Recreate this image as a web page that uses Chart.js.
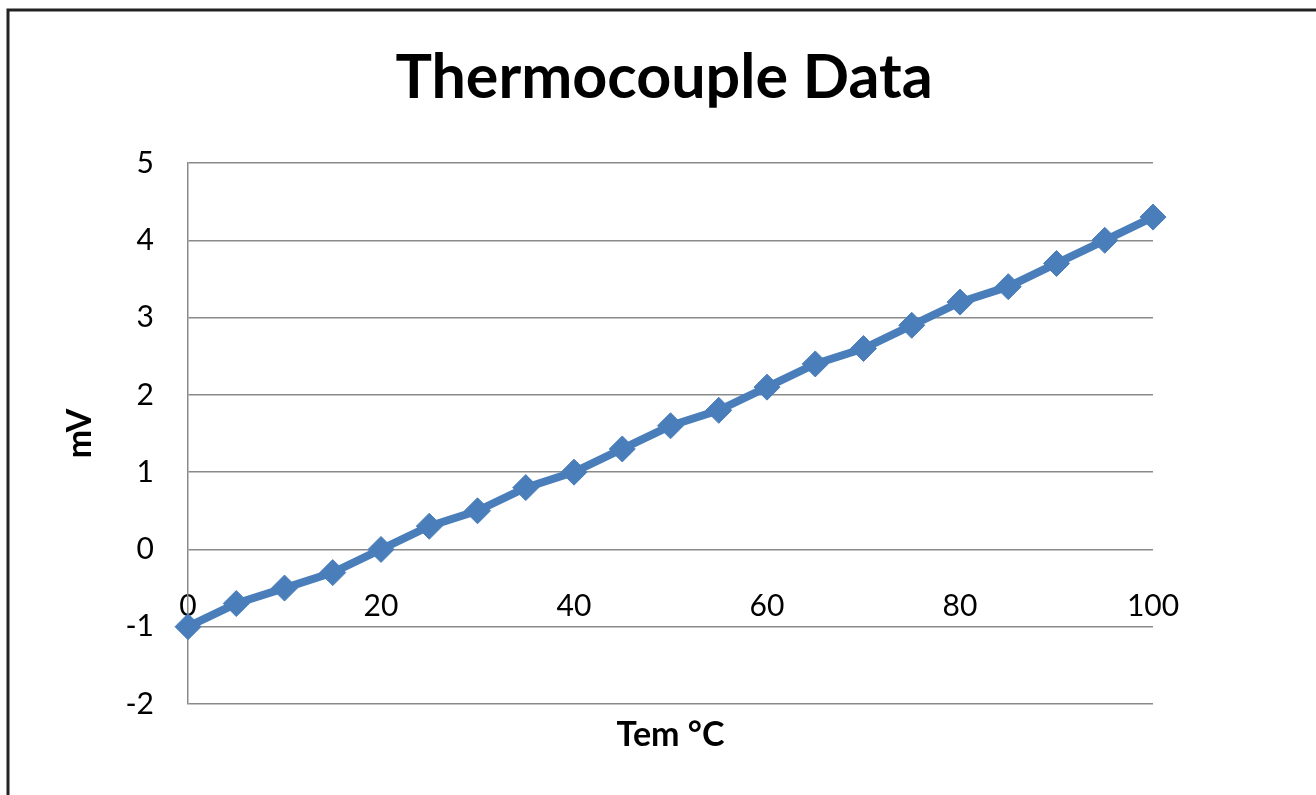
<!DOCTYPE html>
<html>
<head>
<meta charset="utf-8">
<script src="https://cdn.jsdelivr.net/npm/chart.js@4.4.1/dist/chart.umd.min.js"></script>
<style>
  html, body { margin: 0; padding: 0; background: #fff; }
  #wrap { width: 1316px; height: 795px; }
</style>
</head>
<body>
<div id="wrap"><canvas id="myChart" width="1316" height="795"></canvas></div>
<script>
const temps = [0, 5, 10, 15, 20, 25, 30, 35, 40, 45, 50, 55, 60, 65, 70, 75, 80, 85, 90, 95, 100];
const mv = [-1, -0.7, -0.5, -0.3, 0, 0.3, 0.5, 0.8, 1.0, 1.3, 1.6, 1.8, 2.1, 2.4, 2.6, 2.9, 3.2, 3.4, 3.7, 4.0, 4.3];
const yTicks = [-2, -1, 0, 1, 2, 3, 4, 5];
const xTicks = [0, 20, 40, 60, 80, 100];

const titleText = 'Thermocouple Data';
const xTitle = 'Tem °C';
const yTitle = 'mV';

const blue = '#4a7ebb';
const gridGray = '#8a8a8a';

Chart.defaults.font.family = 'Lato';
Chart.defaults.color = '#000';

// frame + big title like the excel chart
const frame = {
    id: 'frame',
    afterDraw(chart) {
        const c = chart.ctx;
        c.save();
        c.strokeStyle = '#222';
        c.lineWidth = 3;
        c.beginPath();
        c.moveTo(8, 795);
        c.lineTo(8, 10);
        c.lineTo(1316, 10);
        c.stroke();
        c.fillStyle = '#000';
        c.font = 'bold 61px Lato';
        c.textAlign = 'center';
        c.textBaseline = 'alphabetic';
        c.fillText(titleText, 664, 98);
        c.restore();
    }
};

new Chart(document.getElementById('myChart'), {
    type: 'line',
    data: {
        datasets: [{
            label: 'mV',
            data: temps.map((t, i) => ({ x: t, y: mv[i] })),
            borderColor: blue,
            backgroundColor: blue,
            borderWidth: 8,
            pointStyle: 'rectRot',
            pointRadius: 13,
            pointBorderWidth: 1,
            pointBorderColor: blue,
            pointBackgroundColor: blue,
            tension: 0,
            clip: false
        }]
    },
    options: {
        responsive: false,
        animation: false,
        layout: {
            padding: { top: 163, right: 163, bottom: 0, left: 0 }
        },
        scales: {
            x: {
                type: 'linear',
                min: 0,
                max: 100,
                grid: { display: false },
                border: { display: false },
                ticks: { display: false },
                title: {
                    display: true,
                    text: xTitle,
                    font: { size: 34, weight: 'bold' },
                    padding: { top: 0, bottom: 40 }
                },
                afterFit(scale) { scale.height = 91; }
            },
            x2: {
                type: 'linear',
                axis: 'x',
                position: { y: -1 },
                min: 0,
                max: 100,
                grid: { display: false, drawTicks: false },
                border: { display: false },
                afterBuildTicks(scale) { scale.ticks = xTicks.map(v => ({ value: v })); },
                ticks: {
                    font: { size: 30 },
                    padding: -38,
                    maxRotation: 0
                },
                afterFit(scale) { scale.height = 0; }
            },
            y: {
                min: -2,
                max: 5,
                afterBuildTicks(scale) { scale.ticks = yTicks.map(v => ({ value: v })); },
                grid: { color: gridGray, lineWidth: 1.5, drawTicks: false },
                border: { display: true, color: gridGray, width: 1.5 },
                ticks: { font: { size: 30 }, padding: 34 },
                title: {
                    display: true,
                    text: yTitle,
                    font: { size: 34, weight: 'bold' },
                    padding: { top: 60, bottom: 0 }
                },
                afterFit(scale) { scale.width = 188; }
            }
        },
        plugins: {
            legend: { display: false },
            tooltip: { enabled: false }
        }
    },
    plugins: [frame]
});
</script>
</body>
</html>
